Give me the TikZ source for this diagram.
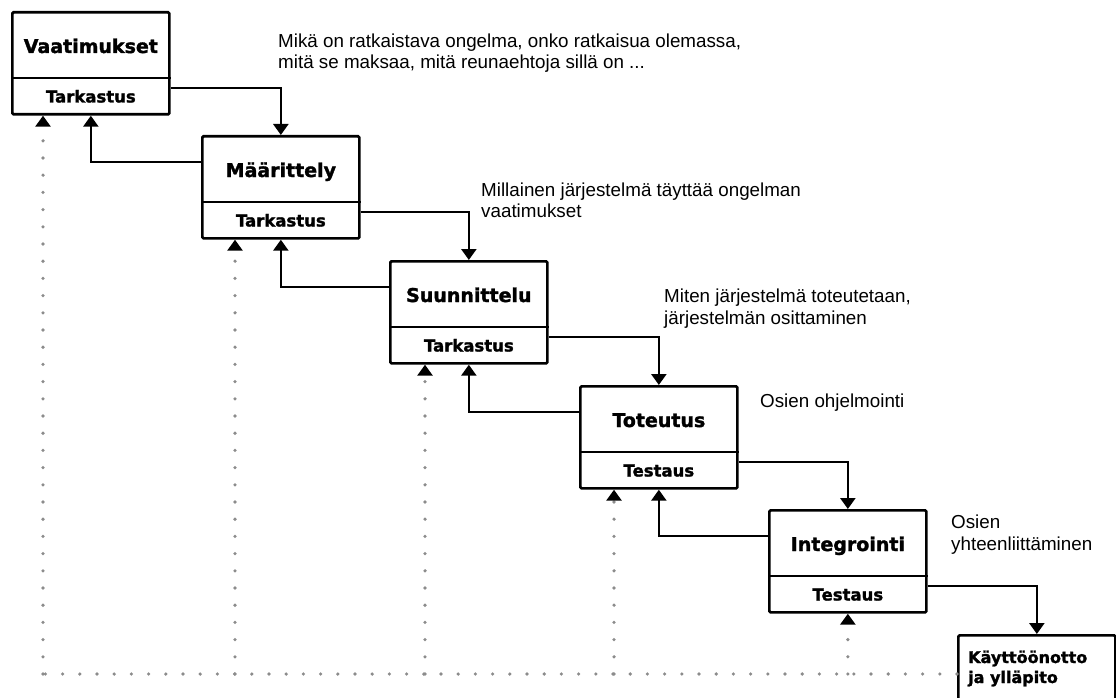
\documentclass[tikz,border=0pt]{standalone}
\usepackage{fontspec}
\setmainfont{Liberation Sans}
\newfontfamily\boxfont{DejaVu Sans}[BoldFeatures={FakeBold=1.6}]
\usetikzlibrary{arrows.meta,calc}
\definecolor{dotgray}{HTML}{8C8C8C}

\begin{document}
\begin{tikzpicture}[x=1pt,y=-1pt,
  stagebox/.style={draw, line width=2.7pt, rounded corners=1.2pt,
    minimum width=157pt, minimum height=102pt, anchor=north west, inner sep=0pt},
  lastbox/.style={stagebox, minimum height=130pt},
  titletext/.style={font=\boxfont\bfseries\fontsize{19}{22}\selectfont, anchor=base, inner sep=0pt},
  checktext/.style={font=\boxfont\bfseries\fontsize{16.5}{20}\selectfont, anchor=base, inner sep=0pt},
  lasttext/.style={font=\boxfont\bfseries\fontsize{16}{20}\selectfont, anchor=base west, inner sep=0pt},
  note/.style={font=\fontsize{18.8}{21.5}\selectfont, anchor=base west, inner sep=0pt},
  divider/.style={line width=2.5pt},
  flow/.style={line width=2.4pt, -{Triangle[width=15pt,length=11pt]}},
  feedback/.style={line width=3.6pt, color=dotgray, line cap=round,
    dash pattern=on 0pt off 17.2pt,
    -{Triangle[width=15pt,length=11pt,color=black]}},
  baseline/.style={line width=3.6pt, color=dotgray, line cap=round,
    dash pattern=on 0pt off 17.2pt}
]
\useasboundingbox (0,0) rectangle (1116,698);
\clip (0,0) rectangle (1116,698);

% stage boxes: title above the divider, check below it
\newcommand\stage[5]{%
  \node[stagebox] (#1) at (#2,#3) {};
  \draw[divider] ($(#1.north west)+(0,67)$) -- ($(#1.north east)+(0,67)$);
  \node[titletext] (#1-title) at ($(#1.north)+(0,42)$) {#4};
  \node[checktext] (#1-check) at ($(#1.north)+(0,91.5)$) {#5};
}
\stage{b1}{11}{11}{Vaatimukset}{Tarkastus}
\stage{b2}{201}{135}{Määrittely}{Tarkastus}
\stage{b3}{389}{260}{Suunnittelu}{Tarkastus}
\stage{b4}{579}{385}{Toteutus}{Testaus}
\stage{b5}{768}{509}{Integrointi}{Testaus}

\node[lastbox] (b6) at (957,634) {};
\node[lasttext] (b6-l1) at (968,663) {Käyttöönotto};
\node[lasttext] (b6-l2) at (968,683) {ja ylläpito};

% forward flow
\draw[flow] ($(b1.north east)+(0,77)$) -| (b2.north);
\draw[flow] ($(b2.north east)+(0,77)$) -| (b3.north);
\draw[flow] ($(b3.north east)+(0,77)$) -| (b4.north);
\draw[flow] ($(b4.north east)+(0,77)$) -| (b5.north);
\draw[flow] ($(b5.north east)+(0,77)$) -| (b6.north);

% return to previous phase
\draw[flow] ($(b2.north west)+(0,27)$) -| (b1.south);
\draw[flow] ($(b3.north west)+(0,27)$) -| (b2.south);
\draw[flow] ($(b4.north west)+(0,27)$) -| (b3.south);
\draw[flow] ($(b5.north west)+(0,27)$) -| (b4.south);

% dotted feedback from maintenance
\coordinate (f1) at (43,674);
\coordinate (f2) at (235,674);
\coordinate (f3) at (425,674);
\coordinate (f4) at (614,674);
\coordinate (f5) at (b5.south |- f1);
\draw[baseline] (b6.west |- f1) -- (f1);
\draw[feedback] (f1) -- (f1 |- b1.south);
\draw[feedback] (f2) -- (f2 |- b2.south);
\draw[feedback] (f3) -- (f3 |- b3.south);
\draw[feedback] (f4) -- (f4 |- b4.south);
\draw[feedback] (f5) -- (b5.south);

% notes
\node[note] (n1a) at (278,48) {Mikä on ratkaistava ongelma, onko ratkaisua olemassa,};
\node[note] (n1b) at (278,69) {mitä se maksaa, mitä reunaehtoja sillä on ...};
\node[note] (n2a) at (481,196) {Millainen järjestelmä täyttää ongelman};
\node[note] (n2b) at (481,217) {vaatimukset};
\node[note] (n3a) at (664,302) {Miten järjestelmä toteutetaan,};
\node[note] (n3b) at (664,324) {järjestelmän osittaminen};
\node[note] (n4) at (760,407) {Osien ohjelmointi};
\node[note] (n5a) at (951,528) {Osien};
\node[note] (n5b) at (951,550) {yhteenliittäminen};
\end{tikzpicture}
\end{document}
